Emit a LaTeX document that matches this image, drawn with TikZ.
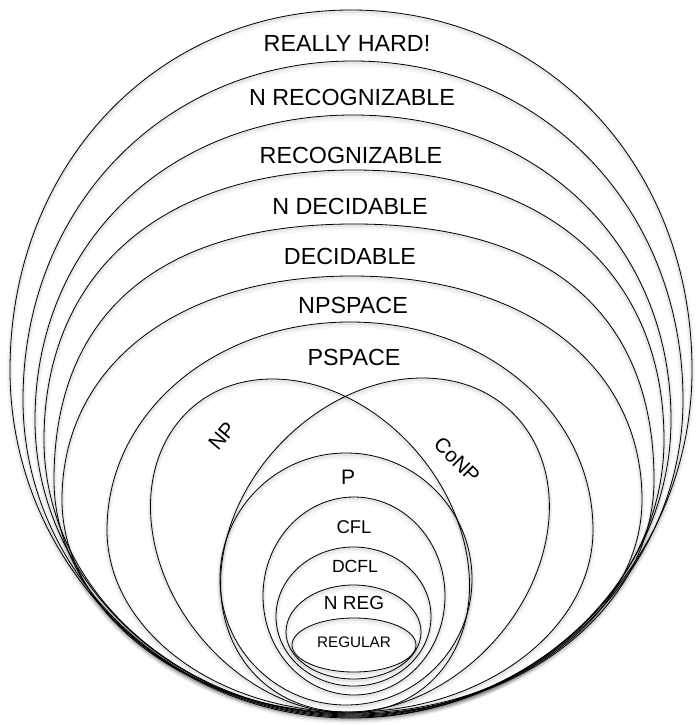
\documentclass[tikz,border=0pt]{standalone}
\usepackage{fontspec}
\setmainfont{Liberation Sans}
% egg-shaped ring: style, cx, top, y of widest, bottom, half width, k upper, k lower
\newcommand\eggdraw[8]{%
  \draw[#1] (#2,#3) .. controls ({#2-#7*#6},#3) and ({#2-#6},{#4-#7*(#4-#3)}) .. ({#2-#6},#4)
    .. controls ({#2-#6},{#4+#8*(#5-#4)}) and ({#2-#8*#6},#5) .. (#2,#5)
    .. controls ({#2+#8*#6},#5) and ({#2+#6},{#4+#8*(#5-#4)}) .. ({#2+#6},#4)
    .. controls ({#2+#6},{#4-#7*(#4-#3)}) and ({#2+#7*#6},#3) .. (#2,#3) -- cycle;}
\newcommand\eggring[7]{%
  \eggdraw{shadeA}{#1}{#2}{#3}{#4}{#5}{#6}{#7}%
  \eggdraw{shadeB}{#1}{#2}{#3}{#4}{#5}{#6}{#7}%
  \eggdraw{ring}{#1}{#2}{#3}{#4}{#5}{#6}{#7}}
% elliptic ring: cx, cy, rx, ry
\newcommand\ovalring[4]{%
  \draw[shadeA] (#1,#2) ellipse [x radius=#3, y radius=#4];
  \draw[shadeB] (#1,#2) ellipse [x radius=#3, y radius=#4];
  \draw[ring] (#1,#2) ellipse [x radius=#3, y radius=#4];}
\begin{document}
\begin{tikzpicture}[x=1pt,y=-1pt,
  ring/.style={draw=black, line width=0.8pt},
  shadeA/.style={draw=black, line width=6pt, opacity=0.04, transform canvas={yshift=-2.5pt}},
  shadeB/.style={draw=black, line width=3pt, opacity=0.06, transform canvas={yshift=-1.5pt}},
  biglabel/.style={inner sep=0pt, font=\fontsize{23.3}{25}\selectfont},
  lbl/.style={inner sep=0pt, font=\fontsize{#1}{#1}\selectfont}]
\useasboundingbox (0,0) rectangle (696,725);
\fill[white] (0,0) rectangle (696,725);
% outer rings
\eggring{351}{10}{370}{718}{341}{0.57}{0.55}
\eggring{353}{61}{400}{717}{330}{0.57}{0.55}
\eggring{353}{115}{420}{716}{318}{0.58}{0.55}
\eggring{354}{170}{440}{715}{310}{0.62}{0.55}
\eggring{354}{224}{480}{714}{300}{0.65}{0.55}
\eggring{352}{276}{500}{713}{290}{0.60}{0.55}
\eggring{350}{322}{530}{712}{243}{0.56}{0.55}
% NP and CoNP (slanted ellipses)
\begin{scope}[shift={(310,546)}, xslant=-0.225]
\ovalring{0}{0}{155}{167}
\end{scope}
\begin{scope}[shift={(385,545)}, xslant=0.225]
\ovalring{0}{0}{160}{167}
\end{scope}
% inner rings
\ovalring{346}{579}{126}{126}
\ovalring{354}{596}{91}{99}
\ovalring{353.5}{616.5}{77.5}{69.5}
\ovalring{353.5}{632}{67.5}{47}
\ovalring{354}{645}{62}{27}
% labels
\node[biglabel] (rh) at (347,43) {REALLY HARD!};
\node[biglabel] (nrec) at (352,97) {N RECOGNIZABLE};
\node[biglabel] (rec) at (351,155) {RECOGNIZABLE};
\node[biglabel] (ndec) at (350,206) {N DECIDABLE};
\node[biglabel] (dec) at (350,256) {DECIDABLE};
\node[biglabel] (npspace) at (353,305) {NPSPACE};
\node[biglabel] (pspace) at (354,357) {PSPACE};
\node[lbl=21, rotate=50] (np) at (222,436) {NP};
\node[lbl=20.6, rotate=-45] (conp) at (457,460) {CoNP};
\node[lbl=21] (p) at (348,477) {P};
\node[lbl=18.5] (cfl) at (354,527) {CFL};
\node[lbl=17.6] (dcfl) at (355,566) {DCFL};
\node[lbl=19] (nreg) at (354,603) {N REG};
\node[lbl=15.3] (reg) at (354,642) {REGULAR};
\end{tikzpicture}
\end{document}
